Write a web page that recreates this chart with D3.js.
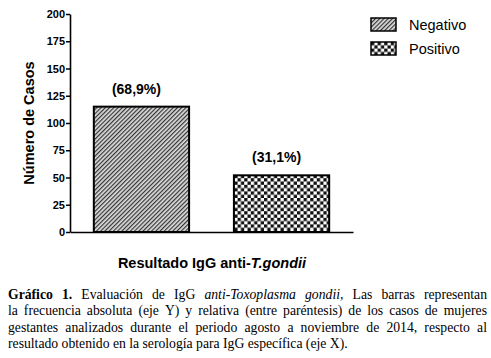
<!DOCTYPE html>
<html>
<head>
<meta charset="utf-8">
<script src="https://d3js.org/d3.v7.min.js"></script>
<style>
  body { margin: 0; background: #fff; }
  svg { display: block; }
</style>
</head>
<body>
<div id="my_dataviz"></div>
<script>

// data
var categories = ["Negativo", "Positivo"];
var casos = [115, 52];
var porcentajes = ["(68,9%)", "(31,1%)"];
var yTicks = [0, 25, 50, 75, 100, 125, 150, 175, 200];

// caption lines, words tagged b = bold, i = italic, n = normal
var captionLines = [
  [["Gráfico", "b"], ["1.", "b"], ["Evaluación", "n"], ["de", "n"], ["IgG", "n"], ["anti-Toxoplasma", "i"], ["gondii,", "i"], ["Las", "n"], ["barras", "n"], ["representan", "n"]],
  [["la", "n"], ["frecuencia", "n"], ["absoluta", "n"], ["(eje", "n"], ["Y)", "n"], ["y", "n"], ["relativa", "n"], ["(entre", "n"], ["paréntesis)", "n"], ["de", "n"], ["los", "n"], ["casos", "n"], ["de", "n"], ["mujeres", "n"]],
  [["gestantes", "n"], ["analizados", "n"], ["durante", "n"], ["el", "n"], ["periodo", "n"], ["agosto", "n"], ["a", "n"], ["noviembre", "n"], ["de", "n"], ["2014,", "n"], ["respecto", "n"], ["al", "n"]],
  [["resultado", "n"], ["obtenido", "n"], ["en", "n"], ["la", "n"], ["serología", "n"], ["para", "n"], ["IgG", "n"], ["específica", "n"], ["(eje", "n"], ["X).", "n"]]
];

var W = 491, H = 358;
var svg = d3.select("#my_dataviz").append("svg")
  .attr("width", W).attr("height", H);

var defs = svg.append("defs");

// diagonal hatch for Negativo
var hatch = defs.append("pattern")
  .attr("id", "hatch")
  .attr("patternUnits", "userSpaceOnUse")
  .attr("width", 3).attr("height", 3)
  .attr("patternTransform", "rotate(45)");
hatch.append("rect").attr("width", 3).attr("height", 3).attr("fill", "#dcdcdc");
hatch.append("rect").attr("x", 0).attr("width", 1.2).attr("height", 3).attr("fill", "#333");

// checkerboard for Positivo
var cs = 3.3;
var check = defs.append("pattern")
  .attr("id", "check")
  .attr("patternUnits", "userSpaceOnUse")
  .attr("width", cs * 2).attr("height", cs * 2);
check.append("rect").attr("width", cs * 2).attr("height", cs * 2).attr("fill", "#fff");
check.append("rect").attr("width", cs).attr("height", cs).attr("fill", "#111");
check.append("rect").attr("x", cs).attr("y", cs).attr("width", cs).attr("height", cs).attr("fill", "#111");

var fills = { "Negativo": "url(#hatch)", "Positivo": "url(#check)" };

var x = d3.scaleBand()
  .domain(categories)
  .range([70, 353])
  .paddingInner(0.32)
  .paddingOuter(0.17);

var y = d3.scaleLinear()
  .domain([0, 200])
  .range([232, 14]);

var sans = "'Liberation Sans', Arial, sans-serif";

// Y axis
var yAxis = svg.append("g")
  .attr("transform", "translate(70,0)")
  .call(d3.axisLeft(y).tickValues(yTicks).tickSize(4).tickSizeOuter(0));
yAxis.select(".domain").attr("stroke", "#000").attr("stroke-width", 1.6);
yAxis.selectAll(".tick line").attr("stroke", "#000").attr("stroke-width", 1.5);
yAxis.selectAll(".tick text")
  .attr("x", -5)
  .style("font-family", sans).style("font-size", "11px").style("font-weight", "bold").attr("fill", "#000");

// X axis line, no ticks
var xAxis = svg.append("g")
  .attr("transform", "translate(0,232)")
  .call(d3.axisBottom(x).tickSize(0).tickFormat(""));
xAxis.select(".domain").attr("stroke", "#000").attr("stroke-width", 1.6);

// bars
svg.selectAll(".bar")
  .data(categories)
  .enter().append("rect")
    .attr("class", "bar")
    .attr("x", function(d) { return x(d); })
    .attr("width", x.bandwidth())
    .attr("y", function(d, i) { return y(casos[i]); })
    .attr("height", function(d, i) { return y(0) - y(casos[i]); })
    .attr("fill", function(d) { return fills[d]; })
    .attr("stroke", "#000")
    .attr("stroke-width", 2);

// percentage labels
svg.selectAll(".pct")
  .data(categories)
  .enter().append("text")
    .attr("x", function(d) { return x(d) + x.bandwidth() / 2 - 5; })
    .attr("y", function(d, i) { return y(casos[i]) - 13; })
    .attr("text-anchor", "middle")
    .style("font-family", sans).style("font-size", "14px").style("font-weight", "bold")
    .text(function(d, i) { return porcentajes[i]; });

// axis titles
svg.append("text")
  .attr("transform", "translate(34,123) rotate(-90)")
  .attr("text-anchor", "middle")
  .style("font-family", sans).style("font-size", "14.5px").style("font-weight", "bold")
  .text("Número de Casos");

var xt = svg.append("text")
  .attr("x", 212).attr("y", 268)
  .attr("text-anchor", "middle")
  .style("font-family", sans).style("font-size", "14.5px").style("font-weight", "bold");
xt.append("tspan").text("Resultado IgG anti-");
xt.append("tspan").style("font-style", "italic").text("T.gondii");

// legend
var legend = svg.selectAll(".legend")
  .data(categories)
  .enter().append("g")
    .attr("transform", function(d, i) { return "translate(371," + (18 + i * 24) + ")"; });
legend.append("rect")
  .attr("width", 25).attr("height", 13)
  .attr("fill", function(d) { return fills[d]; })
  .attr("stroke", "#000").attr("stroke-width", 1.5);
legend.append("text")
  .attr("x", 38).attr("y", 12)
  .style("font-family", sans).style("font-size", "14.5px")
  .text(function(d) { return d; });

// caption, justified between left and right
var serif = "'Liberation Serif', 'Times New Roman', serif";
var capLeft = 8, capRight = 487, capTop = 299, capStep = 16.3;

function styleWord(sel, s) {
  sel.style("font-family", serif).style("font-size", "13.7px")
    .style("font-weight", s === "b" ? "bold" : "normal")
    .style("font-style", s === "i" ? "italic" : "normal")
    .attr("fill", "#000");
}

captionLines.forEach(function(line, li) {
  var g = svg.append("g");
  var words = line.map(function(w) {
    var t = g.append("text").attr("y", capTop + li * capStep).text(w[0]);
    styleWord(t, w[1]);
    return { el: t, w: t.node().getComputedTextLength() };
  });
  var total = d3.sum(words, function(d) { return d.w; });
  var gap = (li === captionLines.length - 1) ? 3.4 : (capRight - capLeft - total) / (words.length - 1);
  var cx = capLeft;
  words.forEach(function(d) {
    d.el.attr("x", cx);
    cx += d.w + gap;
  });
});

</script>
</body>
</html>
